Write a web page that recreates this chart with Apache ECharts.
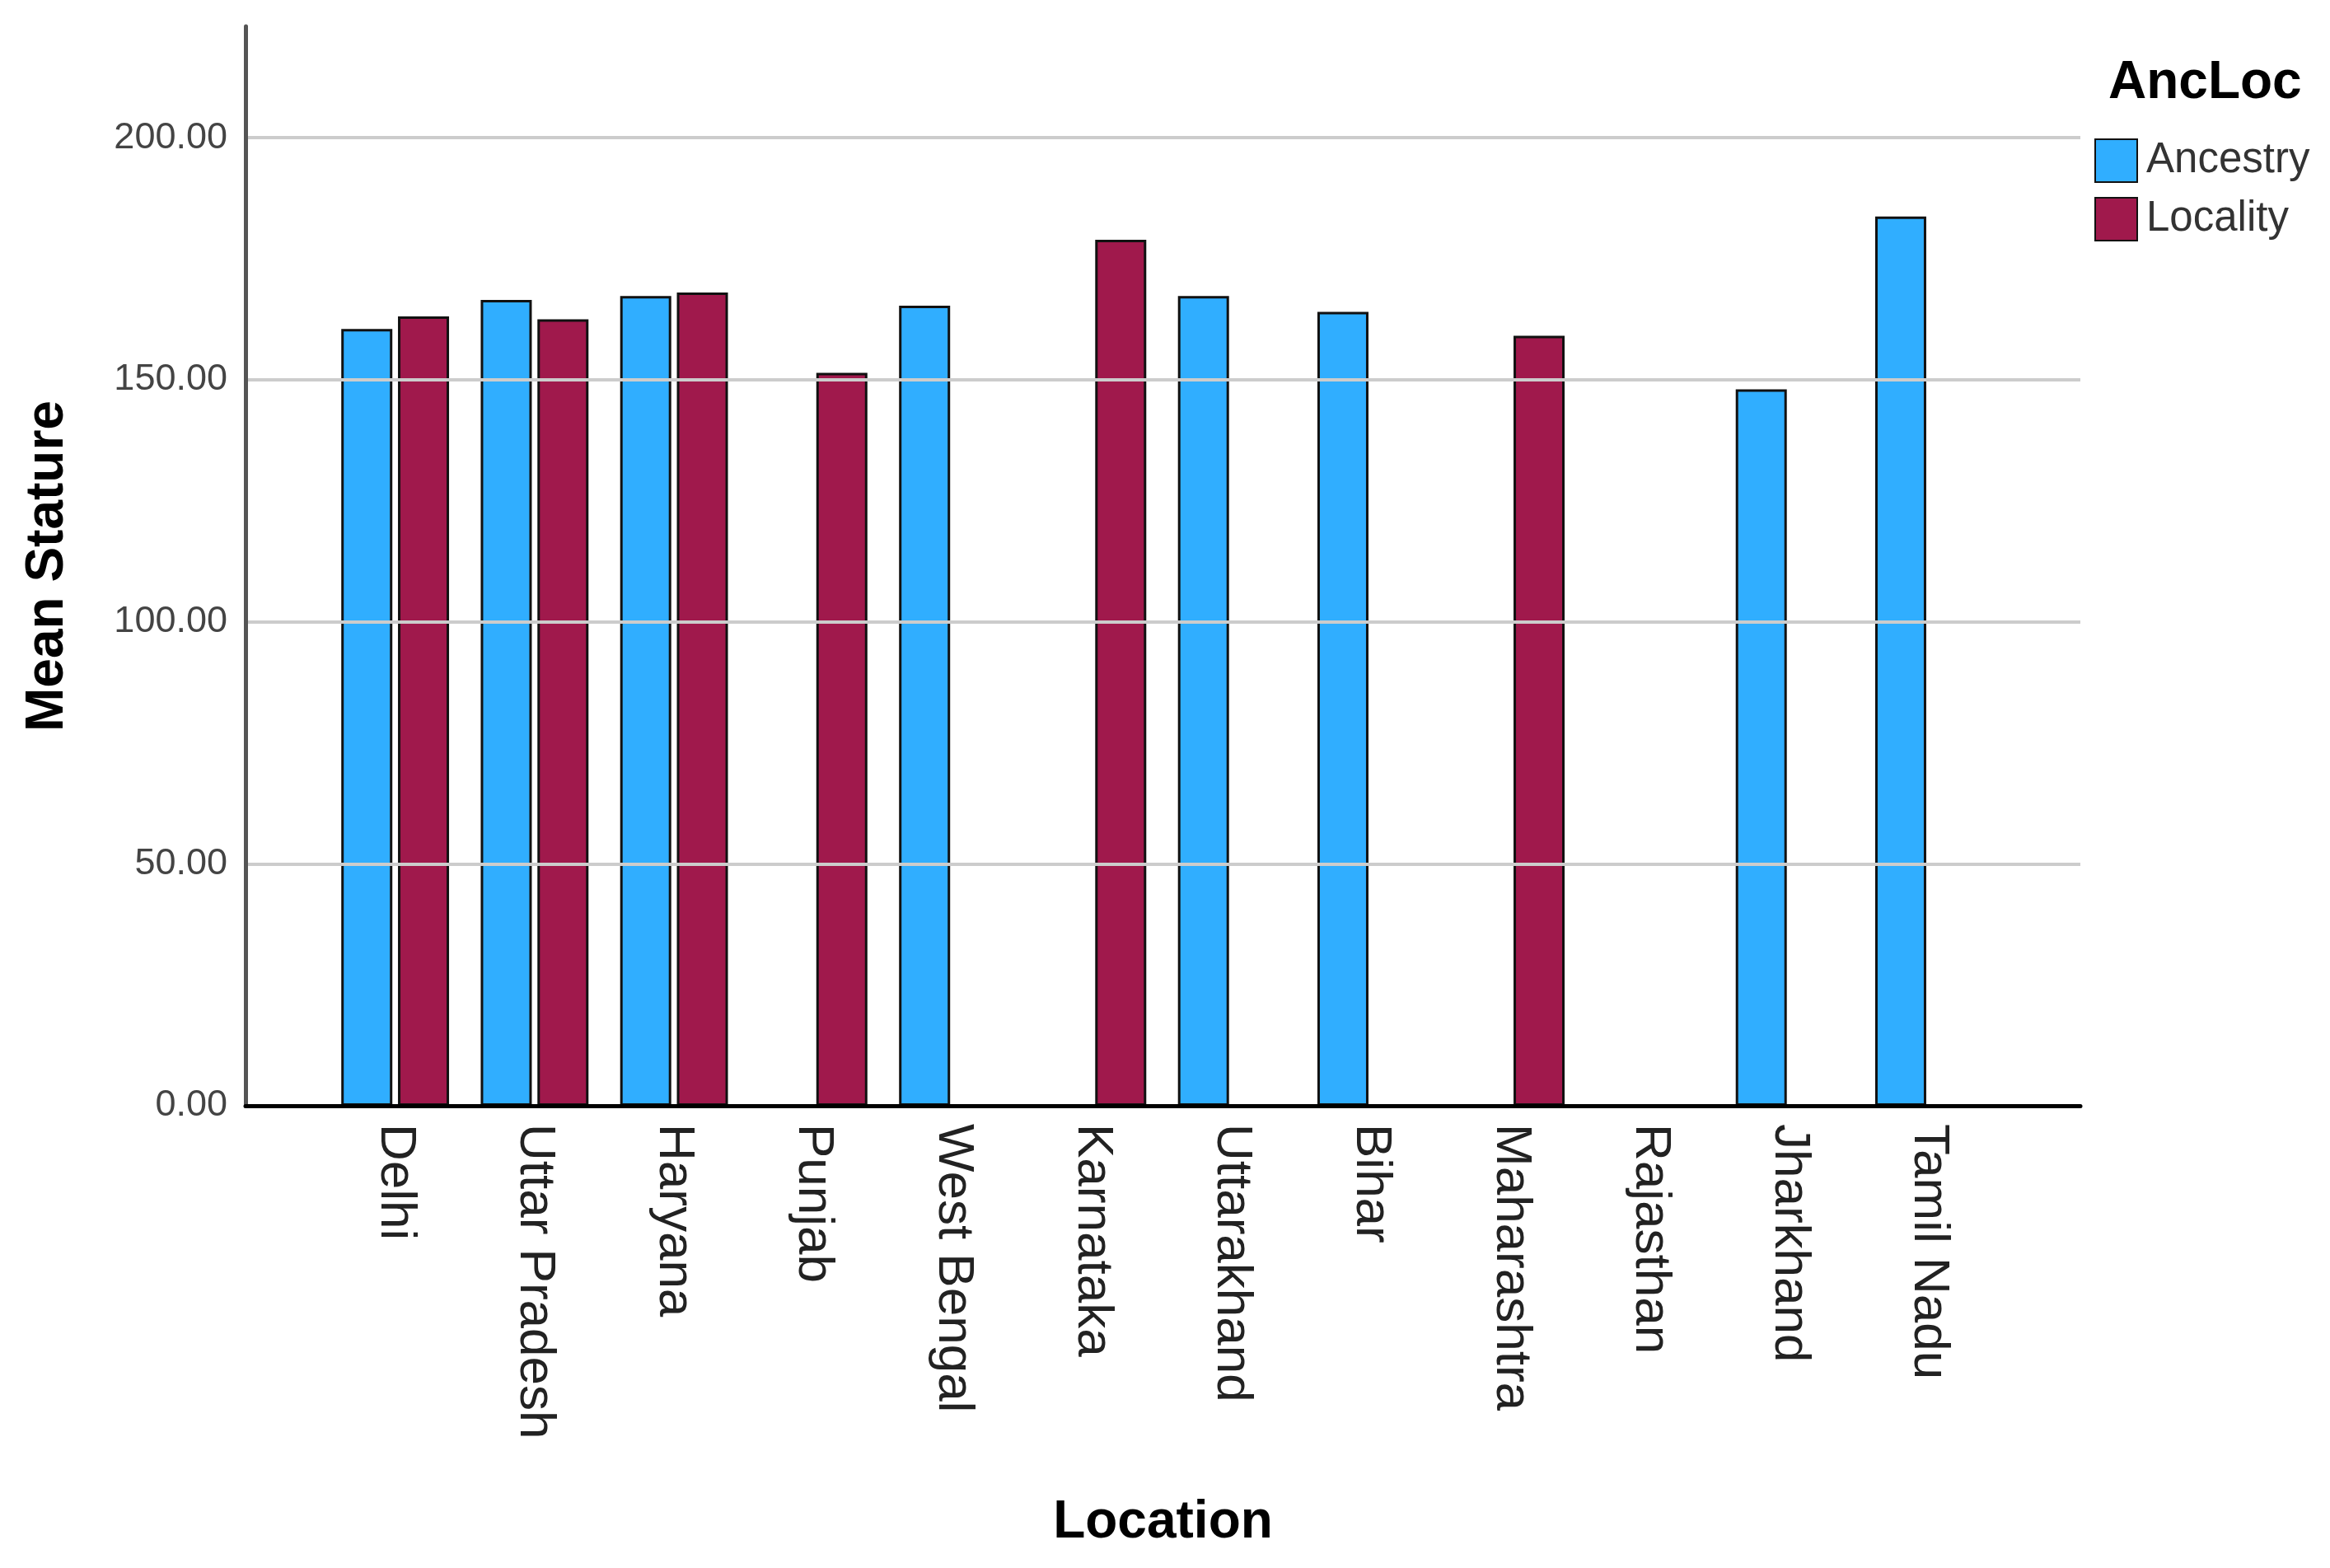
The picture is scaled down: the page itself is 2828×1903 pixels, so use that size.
<!DOCTYPE html>
<html><head><meta charset="utf-8">
<script src="https://cdn.jsdelivr.net/npm/echarts@6/dist/echarts.min.js"></script>
<style>html,body{margin:0;padding:0;background:#fff}#c{width:2828px;height:1903px}</style>
</head><body><div id="c"></div>
<script>
const categories = ['Delhi','Uttar Pradesh','Haryana','Punjab','West Bengal','Karnataka','Uttarakhand','Bihar','Maharashtra','Rajasthan','Jharkhand','Tamil Nadu'];
const ancestry = [160.5,166.5,167.3,null,165.3,null,167.3,164.0,null,null,148.0,183.7];
const locality = [163.1,162.5,168.0,151.4,null,178.9,null,null,159.1,null,null,null];
const seriesNames = ['Ancestry','Locality'];
const yMin = 0, yMax = 223, yStep = 50;

const FONT = 'Liberation Sans, Arial, sans-serif';
const chart = echarts.init(document.getElementById('c'), null, {renderer:'canvas'});
const gridTop = 32, gridBottom = 561;
chart.setOption({
  backgroundColor:'#fff',
  animation:false,
  textStyle:{fontFamily:FONT},
  title:{text:'AncLoc', left:2554, top:64, textStyle:{fontFamily:FONT, fontWeight:'bold', fontSize:64, color:'#000'}},
  legend:{
    data:seriesNames, orient:'vertical', left:2537, top:163,
    itemWidth:51, itemHeight:52, itemGap:17, icon:'rect',
    textStyle:{fontFamily:FONT, fontSize:51, color:'#333', padding:[0,0,0,6]}
  },
  grid:[
    {left:298, right:303, top:gridTop, bottom:gridBottom},
    {left:395, right:402, top:gridTop, bottom:gridBottom}
  ],
  xAxis:[
    {gridIndex:0, type:'category', data:categories, z:10,
     axisLine:{lineStyle:{color:'#000', width:5}}, axisTick:{show:false}, axisLabel:{show:false},
     name:'Location', nameLocation:'middle', nameGap:474,
     nameTextStyle:{fontFamily:FONT, fontWeight:'bold', fontSize:64, color:'#000'}},
    {gridIndex:1, type:'category', data:categories,
     axisLine:{show:false}, axisTick:{show:false},
     axisLabel:{rotate:-90, margin:22, fontSize:62, color:'#222', fontFamily:FONT, interval:0, padding:[20,0,0,0]}}
  ],
  yAxis:[
    {gridIndex:0, type:'value', min:yMin, max:yMax, interval:yStep, z:10,
     axisLine:{show:true, lineStyle:{color:'#555', width:5}}, axisTick:{show:false},
     axisLabel:{fontSize:45, color:'#444', margin:22, fontFamily:FONT,
       formatter:v => (v % yStep === 0) ? v.toFixed(2) : ''},
     splitLine:{show:true, lineStyle:{color:['#cccccc','#cccccc','#cccccc','#cccccc','#cccccc','rgba(0,0,0,0)'], width:4}},
     name:'Mean Stature', nameLocation:'middle', nameRotate:90, nameGap:208,
     nameTextStyle:{fontFamily:FONT, fontWeight:'bold', fontSize:64, color:'#000'}},
    {gridIndex:1, type:'value', min:yMin, max:yMax, interval:yStep, show:false, splitLine:{show:false}}
  ],
  series:[
    {name:seriesNames[0], type:'bar', xAxisIndex:1, yAxisIndex:1, data:ancestry,
     barWidth:62, barGap:'11%', itemStyle:{color:'#30AEFF', borderColor:'#111', borderWidth:3}},
    {name:seriesNames[1], type:'bar', xAxisIndex:1, yAxisIndex:1, data:locality,
     barWidth:62, barGap:'11%', itemStyle:{color:'#A0194C', borderColor:'#111', borderWidth:3}}
  ]
});
</script></body></html>
